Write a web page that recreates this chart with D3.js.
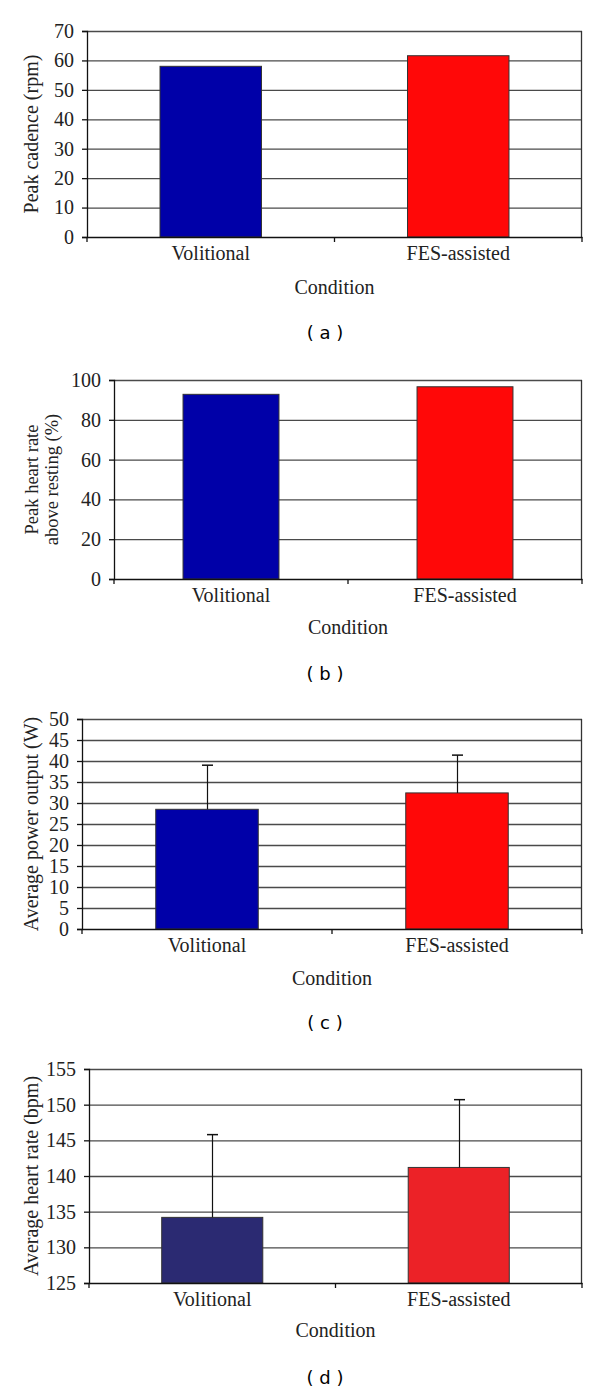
<!DOCTYPE html>
<html><head><meta charset="utf-8">
<script src="https://cdn.jsdelivr.net/npm/d3@7"></script>
<style>
html,body{margin:0;padding:0;background:#fff;}
svg{display:block;}
.serif{font-family:"Liberation Serif","Times New Roman",serif;}
</style></head>
<body>
<svg id="chart" width="600" height="1392"></svg>
<script>
const categories = ["Volitional", "FES-assisted"];
const peakCadence = [58.0, 61.6];
const peakHeartRatePct = [92.8, 96.6];
const avgPower = [28.5, 32.4];
const avgPowerErr = [10.5, 9.0];
const avgHeartRate = [134.2, 141.2];
const avgHeartRateErr = [11.6, 9.5];
const ticksA = [0,10,20,30,40,50,60,70];
const ticksB = [0,20,40,60,80,100];
const ticksC = [0,5,10,15,20,25,30,35,40,45,50];
const ticksD = [125,130,135,140,145,150,155];

const colorsABC = ["#0000a8", "#ff0808"];
const colorsD = ["#2b2a72", "#ec2227"];

const svg = d3.select("#chart");

function panel(cfg){
  const g = svg.append("g");
  const x = d3.scaleBand().domain(categories).range([cfg.left, cfg.right]);
  const y = d3.scaleLinear().domain(cfg.domain).range([cfg.bottom, cfg.top]);
  // gridlines
  g.selectAll("line.grid").data(cfg.ticks.slice(1)).enter().append("line")
    .attr("x1", cfg.left).attr("x2", cfg.right)
    .attr("y1", d=>y(d)+0.5).attr("y2", d=>y(d)+0.5)
    .attr("stroke", "#4a4a4a").attr("stroke-width", 1.3);
  // right border
  g.append("line").attr("x1", cfg.right-0.5).attr("x2", cfg.right-0.5)
    .attr("y1", y(cfg.domain[1])).attr("y2", y(cfg.domain[0]))
    .attr("stroke", "#333").attr("stroke-width", 1.3);
  // bars
  const bw = x.bandwidth()*0.41;
  const vals = cfg.values;
  g.selectAll("rect.bar").data(vals).enter().append("rect")
    .attr("x", (d,i)=>x(categories[i]) + x.bandwidth()/2 - bw/2)
    .attr("y", d=>y(d))
    .attr("width", bw)
    .attr("height", d=>y(cfg.domain[0]) - y(d))
    .attr("fill", (d,i)=>cfg.colors[i])
    .attr("stroke", "#333").attr("stroke-width", 1);
  // error bars
  if (cfg.errors){
    cfg.errors.forEach((e,i)=>{
      const cx = Math.round(x(categories[i]) + x.bandwidth()/2) + 0.5;
      g.append("line").attr("x1",cx).attr("x2",cx)
        .attr("y1", y(vals[i])).attr("y2", y(vals[i]+e))
        .attr("stroke","#111").attr("stroke-width",1.2);
      g.append("line").attr("x1",cx-5.5).attr("x2",cx+5.5)
        .attr("y1", y(vals[i]+e)).attr("y2", y(vals[i]+e))
        .attr("stroke","#111").attr("stroke-width",1.5);
    });
  }
  // y axis
  const ya = d3.axisLeft(y).tickValues(cfg.ticks).tickSize(5).tickPadding(8).tickFormat(d3.format("d"));
  const yg = g.append("g").attr("transform", `translate(${cfg.left},0)`).call(ya);
  yg.attr("font-family", null);
  yg.select(".domain").attr("stroke","#111").attr("stroke-width",1.3);
  yg.selectAll(".tick line").attr("stroke","#111").attr("stroke-width",1.3);
  yg.selectAll("text").attr("class","serif").attr("font-size",20).attr("fill","#222");
  // x axis
  const xa = d3.axisBottom(x).tickSize(0).tickPadding(9);
  const xg = g.append("g").attr("transform", `translate(0,${cfg.bottom})`).call(xa);
  xg.attr("font-family", null);
  xg.select(".domain").attr("stroke","#111").attr("stroke-width",1.3);
  xg.selectAll(".tick text").attr("class","serif").attr("font-size",20).attr("fill","#222").attr("dy","0.72em");
  // category separators
  const seps = [x.range()[0], x(categories[1]), x.range()[1]];
  g.selectAll("line.sep").data(seps).enter().append("line")
    .attr("x1", d=>d).attr("x2", d=>d)
    .attr("y1", cfg.bottom).attr("y2", cfg.bottom+5)
    .attr("stroke","#111").attr("stroke-width",1.3);
  // y title
  const cy = (cfg.top + cfg.bottom)/2;
  const t = g.append("text").attr("class","serif").attr("font-size",cfg.titleSize).attr("fill","#222")
    .attr("text-anchor","middle")
    .attr("transform", `translate(${cfg.titleX},${cy}) rotate(-90)`);
  cfg.title.forEach((line,i)=>{
    t.append("tspan").attr("x",0).attr("y", i*20 + (cfg.title.length===1?7:-3)).text(line);
  });
  // x title
  g.append("text").attr("class","serif").attr("font-size",20).attr("fill","#222")
    .attr("text-anchor","middle")
    .attr("x",(cfg.left+cfg.right)/2).attr("y", cfg.bottom + cfg.condDy).text("Condition");
  // panel label
  g.append("text").attr("font-family","'DejaVu Sans',Verdana,sans-serif").attr("font-size",18).attr("fill","#000")
    .attr("text-anchor","middle")
    .attr("x",325).attr("y", cfg.labelY).text(cfg.label);
}

panel({left:87,right:582,top:31,bottom:237,domain:[0,70],ticks:ticksA,values:peakCadence,colors:colorsABC,
  title:["Peak cadence (rpm)"],titleSize:20,titleX:31,condDy:57,label:"( a )",labelY:339});
panel({left:114,right:582,top:380,bottom:579,domain:[0,100],ticks:ticksB,values:peakHeartRatePct,colors:colorsABC,
  title:["Peak heart rate","above resting (%)"],titleSize:18.5,titleX:41,condDy:55,label:"( b )",labelY:680});
panel({left:82,right:582,top:719,bottom:929,domain:[0,50],ticks:ticksC,values:avgPower,errors:avgPowerErr,colors:colorsABC,
  title:["Average power output (W)"],titleSize:20,titleX:31,condDy:56,label:"( c )",labelY:1029});
panel({left:89,right:582,top:1069,bottom:1283,domain:[125,155],ticks:ticksD,values:avgHeartRate,errors:avgHeartRateErr,colors:colorsD,
  title:["Average heart rate (bpm)"],titleSize:20,titleX:31,condDy:54,label:"( d )",labelY:1384});
</script>
</body></html>
